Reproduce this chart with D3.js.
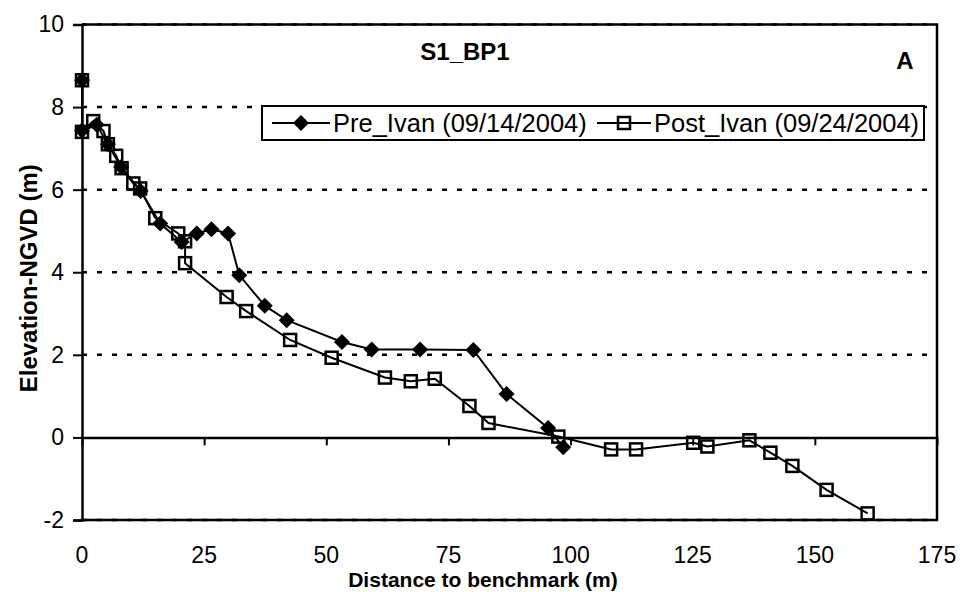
<!DOCTYPE html>
<html>
<head>
<meta charset="utf-8">
<script src="https://cdn.jsdelivr.net/npm/d3@7"></script>
<style>
  body { margin: 0; background: #fff; }
  text { font-family: Arial, "Liberation Sans", sans-serif; fill: #000; }
</style>
</head>
<body>
<div id="chart"></div>
<script>
// profile data (distance m, elevation m)
var preX = [0, 0, 3.0, 5.3, 8.0, 12.0, 16.0, 20.4, 23.5, 26.5, 29.9, 32.2, 37.4, 41.9, 53.2, 59.3, 69.2, 80.1, 86.9, 95.4, 98.5];
var preY = [8.65, 7.43, 7.57, 7.10, 6.55, 5.97, 5.18, 4.73, 4.94, 5.04, 4.94, 3.93, 3.19, 2.84, 2.31, 2.13, 2.13, 2.12, 1.05, 0.23, -0.24];

var postX = [0, 0, 2.3, 4.4, 5.3, 7.0, 8.1, 10.5, 11.9, 15.0, 19.7, 21.1, 21.1, 29.6, 33.6, 42.6, 51.1, 62.0, 67.3, 72.2, 79.3, 83.2, 97.5, 108.3, 113.4, 125.1, 128.0, 136.6, 140.9, 145.4, 152.4, 160.8];
var postY = [8.65, 7.40, 7.66, 7.42, 7.10, 6.82, 6.52, 6.15, 6.03, 5.31, 4.94, 4.75, 4.22, 3.40, 3.06, 2.36, 1.93, 1.45, 1.36, 1.42, 0.76, 0.35, 0.02, -0.29, -0.29, -0.13, -0.22, -0.07, -0.37, -0.69, -1.27, -1.84];

var xTicks = [0, 25, 50, 75, 100, 125, 150, 175];
var yTicks = [-2, 0, 2, 4, 6, 8, 10];
var gridY = [10, 8, 6, 4, 2, -2];

var seriesNames = ['Pre_Ivan (09/14/2004)', 'Post_Ivan (09/24/2004)'];

var width = 960, height = 592;
var plot = {left: 82, right: 937, top: 24.5, bottom: 520};

var svg = d3.select('#chart').append('svg')
    .attr('width', width)
    .attr('height', height);

var x = d3.scaleLinear().domain([0, 175]).range([plot.left, plot.right]);
var y = d3.scaleLinear().domain([-2, 10]).range([plot.bottom, plot.top]);

// dotted gridlines
svg.append('g').selectAll('line')
    .data(gridY)
    .enter().append('line')
        .attr('x1', plot.left).attr('x2', plot.right)
        .attr('y1', function(d) { return y(d); })
        .attr('y2', function(d) { return y(d); })
        .attr('stroke', '#000')
        .attr('stroke-width', 2.5)
        .attr('stroke-dasharray', '5,10');

// plot border (top, right, bottom)
svg.append('path')
    .attr('d', 'M' + plot.left + ',' + plot.top + 'H' + plot.right + 'V' + plot.bottom + 'H' + plot.left)
    .attr('fill', 'none')
    .attr('stroke', '#000')
    .attr('stroke-width', 2.5);

// y axis (plain hyphen for negatives, like the original)
var yAxis = svg.append('g')
    .attr('transform', 'translate(' + plot.left + ',0)')
    .call(d3.axisLeft(y).tickValues(yTicks).tickSize(9).tickPadding(9).tickFormat(function(d) { return String(d); }));
yAxis.select('.domain').attr('stroke-width', 2.5);
yAxis.selectAll('.tick line').attr('stroke-width', 2);
yAxis.selectAll('.tick text').style('font-size', '23px').attr('font-family', null);

// x axis: line at zero, ticks below it, labels at the bottom
var xAxis = svg.append('g')
    .attr('transform', 'translate(0,' + y(0) + ')')
    .call(d3.axisBottom(x).tickValues(xTicks).tickSize(8).tickSizeOuter(0).tickFormat(''));
xAxis.select('.domain').attr('stroke-width', 2.5);
xAxis.selectAll('.tick line').attr('stroke-width', 2);

svg.append('g').selectAll('text')
    .data(xTicks)
    .enter().append('text')
        .attr('x', function(d) { return x(d); })
        .attr('y', 563)
        .attr('text-anchor', 'middle')
        .style('font-size', '23px')
        .text(function(d) { return d; });

// axis titles
svg.append('text')
    .attr('x', 483).attr('y', 587)
    .attr('text-anchor', 'middle')
    .style('font-size', '21px').style('font-weight', 'bold')
    .text('Distance to benchmark (m)');

svg.append('text')
    .attr('transform', 'translate(37,' + ((plot.top + plot.bottom) / 2 + 6) + ') rotate(-90)')
    .attr('text-anchor', 'middle')
    .style('font-size', '24px').style('font-weight', 'bold')
    .text('Elevation-NGVD (m)');

// title and panel letter
svg.append('text')
    .attr('x', 465).attr('y', 60)
    .attr('text-anchor', 'middle')
    .style('font-size', '24px').style('font-weight', 'bold')
    .text('S1_BP1');

svg.append('text')
    .attr('x', 905).attr('y', 69)
    .attr('text-anchor', 'middle')
    .style('font-size', '24px').style('font-weight', 'bold')
    .text('A');

var line = d3.line()
    .x(function(d) { return x(d[0]); })
    .y(function(d) { return y(d[1]); });

function diamond(r) { return 'M0,' + (-r) + 'L' + r + ',0L0,' + r + 'L' + (-r) + ',0Z'; }

var pre = d3.zip(preX, preY);
var post = d3.zip(postX, postY);

svg.append('path')
    .datum(pre)
    .attr('d', line)
    .attr('fill', 'none')
    .attr('stroke', '#000')
    .attr('stroke-width', 2);

svg.append('g').selectAll('path')
    .data(pre)
    .enter().append('path')
        .attr('transform', function(d) { return 'translate(' + x(d[0]) + ',' + y(d[1]) + ')'; })
        .attr('d', diamond(8))
        .attr('fill', '#000');

svg.append('path')
    .datum(post)
    .attr('d', line)
    .attr('fill', 'none')
    .attr('stroke', '#000')
    .attr('stroke-width', 2);

svg.append('g').selectAll('rect')
    .data(post)
    .enter().append('rect')
        .attr('x', function(d) { return x(d[0]) - 6; })
        .attr('y', function(d) { return y(d[1]) - 6; })
        .attr('width', 12).attr('height', 12)
        .attr('fill', 'none')
        .attr('stroke', '#000')
        .attr('stroke-width', 2.5);

// legend
var lg = svg.append('g');
lg.append('rect')
    .attr('x', 262).attr('y', 106)
    .attr('width', 662).attr('height', 34)
    .attr('fill', '#fff')
    .attr('stroke', '#000')
    .attr('stroke-width', 2);

var ly = 123;
lg.append('line').attr('x1', 272).attr('x2', 330).attr('y1', ly).attr('y2', ly)
    .attr('stroke', '#000').attr('stroke-width', 2);
lg.append('path').attr('transform', 'translate(301,' + ly + ')').attr('d', diamond(8)).attr('fill', '#000');
lg.append('text').attr('x', 333).attr('y', ly + 9)
    .style('font-size', '25.5px').text(seriesNames[0]);

lg.append('line').attr('x1', 597).attr('x2', 651).attr('y1', ly).attr('y2', ly)
    .attr('stroke', '#000').attr('stroke-width', 2);
lg.append('rect').attr('x', 618).attr('y', ly - 6).attr('width', 12).attr('height', 12)
    .attr('fill', 'none').attr('stroke', '#000').attr('stroke-width', 2.5);
lg.append('text').attr('x', 654).attr('y', ly + 9)
    .style('font-size', '25.5px').text(seriesNames[1]);
</script>
</body>
</html>
